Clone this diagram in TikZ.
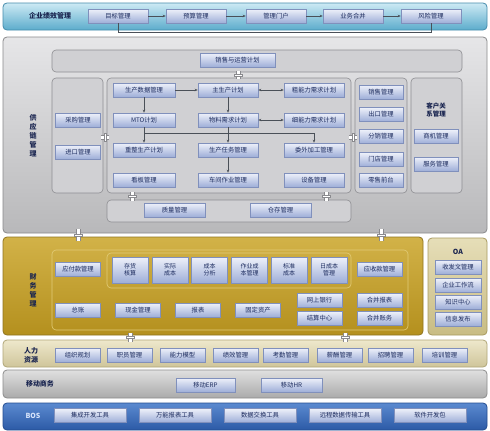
\documentclass[tikz,border=0pt]{standalone}
\usepackage{fontspec}
\setmainfont{Noto Sans CJK SC}
\usetikzlibrary{arrows.meta}
\definecolor{boxtop}{HTML}{EEF1FA}
\definecolor{boxbot}{HTML}{9EAED8}
\definecolor{boxline}{HTML}{8090BC}
\definecolor{boxtext}{HTML}{1C2B5E}
\definecolor{ttl}{HTML}{1A2550}
\definecolor{arrc}{HTML}{4A5058}
\definecolor{pipec}{HTML}{8A8A8E}
\definecolor{b1line}{RGB}{70,140,172}
\definecolor{b1top}{RGB}{205,234,244}
\definecolor{b1bot}{RGB}{92,172,204}
\definecolor{b2line}{RGB}{138,138,140}
\definecolor{b2top}{RGB}{230,230,232}
\definecolor{b2bot}{RGB}{184,184,186}
\definecolor{g2line}{RGB}{142,142,146}
\definecolor{g2fill}{RGB}{208,208,211}
\definecolor{b3line}{RGB}{143,116,32}
\definecolor{b3top}{RGB}{210,178,72}
\definecolor{b3bot}{RGB}{180,144,30}
\definecolor{g3line}{RGB}{226,204,120}
\definecolor{oaline}{RGB}{168,154,96}
\definecolor{oatop}{RGB}{230,222,184}
\definecolor{oabot}{RGB}{200,188,132}
\definecolor{hrline}{RGB}{176,166,120}
\definecolor{hrtop}{RGB}{238,232,204}
\definecolor{hrbot}{RGB}{207,197,154}
\definecolor{mbline}{RGB}{140,140,140}
\definecolor{mbtop}{RGB}{224,224,224}
\definecolor{mbbot}{RGB}{170,170,170}
\definecolor{bsline}{RGB}{35,76,144}
\definecolor{bstop}{RGB}{91,138,208}
\definecolor{bsbot}{RGB}{44,90,166}
\definecolor{bstext}{RGB}{215,228,250}
\newcommand\vpipe[3]{%
  \fill[white] ({#1-2},#2) rectangle ({#1+2},#3);
  \draw[pipec,line width=0.5pt] ({#1-2},#2) -- ({#1-2},#3) ({#1+2},#2) -- ({#1+2},#3);
  \draw[pipec,fill=white,line width=0.4pt] ({#1-4},{(#2+#3)/2-1}) rectangle ({#1+4},{(#2+#3)/2+1});}
\newcommand\hpipe[3]{%
  \fill[white] (#2,{#1-2}) rectangle (#3,{#1+2});
  \draw[pipec,line width=0.5pt] (#2,{#1-2}) -- (#3,{#1-2}) (#2,{#1+2}) -- (#3,{#1+2});
  \draw[pipec,fill=white,line width=0.4pt] ({(#2+#3)/2-1},{#1-4}) rectangle ({(#2+#3)/2+1},{#1+4});}
\begin{document}
\begin{tikzpicture}[x=1pt,y=-1pt,
  bx/.style={draw=boxline, line width=0.6pt, top color=boxtop, bottom color=boxbot,
    minimum height=14pt, inner sep=0pt, font=\fontsize{6.3}{7}\selectfont, text=boxtext},
  bxx/.style={bx, minimum height=26pt, minimum width=36pt, align=center, font=\fontsize{6}{7}\selectfont},
  grp/.style={draw=#1, rounded corners=4pt, line width=0.6pt},
  band/.style={rounded corners=4pt, line width=0.8pt},
  ttlf/.style={font=\fontsize{7}{9}\selectfont\bfseries, text=ttl, align=center, inner sep=0pt},
  arr/.style={-{Stealth[length=3pt,width=2.5pt]}, draw=arrc, line width=0.5pt},
  darr/.style={{Stealth[length=3pt,width=2.5pt]}-{Stealth[length=3pt,width=2.5pt]}, draw=arrc, line width=0.5pt}]
\useasboundingbox (0,0) rectangle (490,431);
\fill[white] (0,0) rectangle (490,431);

% ---------- band 1: enterprise performance ----------
\draw[band, draw=b1line, top color=b1top, bottom color=b1bot] (3,3) rectangle (487,30);
\node[ttlf] (tt) at (50,16) {企业绩效管理};
\node[bx, minimum width=60pt] (t1) at (118,16) {目标管理};
\node[bx, minimum width=60pt] (t2) at (196,16) {预算管理};
\node[bx, minimum width=60pt] (t3) at (276,16) {管理门户};
\node[bx, minimum width=60pt] (t4) at (353,16) {业务合并};
\node[bx, minimum width=60pt] (t5) at (431,16) {风险管理};
\draw[arr] (t1) -- (t2);
\draw[arr] (t2) -- (t3);
\draw[arr] (t3) -- (t4);
\draw[arr] (t4) -- (t5);
\draw[arrc, line width=0.5pt] (t1.south) -- ++(0,9) -| (t5.south);

% ---------- band 2: supply chain ----------
\draw[band, draw=b2line, top color=b2top, bottom color=b2bot] (3,37) rectangle (487,233);
\node[ttlf] (st) at (33,136) {供\\应\\链\\管\\理};
\foreach \a/\b/\c/\d in {52/50/462/72, 52/78/103/193, 107/78/351/193, 107/200/351/222, 355/78/407/193, 411/78/462/193}
  \draw[grp=g2line, fill=g2fill] (\a,\b) rectangle (\c,\d);
\node[bx, minimum width=75pt] (s0) at (237.5,60) {销售与运营计划};
\node[bx, minimum width=45pt] (p1) at (78,120) {采购管理};
\node[bx, minimum width=45pt] (p2) at (78,152) {进口管理};
\node[bx, minimum width=62pt] (c11) at (144,90) {生产数据管理};
\node[bx, minimum width=60pt] (c12) at (228,90) {主生产计划};
\node[bx, minimum width=60pt] (c13) at (314,90) {粗能力需求计划};
\node[bx, minimum width=62pt] (c21) at (144,120) {MTO计划};
\node[bx, minimum width=60pt] (c22) at (228,120) {物料需求计划};
\node[bx, minimum width=60pt] (c23) at (314,120) {细能力需求计划};
\node[bx, minimum width=62pt] (c31) at (144,150) {重整生产计划};
\node[bx, minimum width=60pt] (c32) at (228,150) {生产任务管理};
\node[bx, minimum width=60pt] (c33) at (314,150) {委外加工管理};
\node[bx, minimum width=62pt] (c41) at (144,180) {看板管理};
\node[bx, minimum width=60pt] (c42) at (228,180) {车间作业管理};
\node[bx, minimum width=60pt] (c43) at (314,180) {设备管理};
\node[bx, minimum width=61pt] (q1) at (174.5,210) {质量管理};
\node[bx, minimum width=61pt] (q2) at (280.5,210) {仓存管理};
\node[bx, minimum width=44pt] (x1) at (381,92) {销售管理};
\node[bx, minimum width=44pt] (x2) at (381,114.5) {出口管理};
\node[bx, minimum width=44pt] (x3) at (381,136.5) {分销管理};
\node[bx, minimum width=44pt] (x4) at (381,159.5) {门店管理};
\node[bx, minimum width=44pt] (x5) at (381,180) {零售前台};
\node[ttlf, font=\fontsize{6.5}{8}\selectfont\bfseries] (crt) at (436,110) {客户关\\系管理};
\node[bx, minimum width=44pt] (k1) at (436,136.5) {商机管理};
\node[bx, minimum width=44pt] (k2) at (436,164) {服务管理};
\draw[arr] (c11) -- (c12);
\draw[darr] (c12) -- (c13);
\draw[arr] (c11) -- (c21);
\draw[arr] (c12) -- (c22);
\draw[darr] (c22) -- (c23);
\draw[arr] (c21) -- (c31);
\draw[arr] (c22) -- (c32);
\coordinate (hj) at (144,133);
\draw[arr] (hj) -| (c33.north);
\draw[arr] (c32) -- (c42);
\vpipe{238}{71}{79}
\hpipe{137}{101}{109}
\hpipe{137}{349}{357}
\vpipe{132}{192}{201}
\vpipe{326}{192}{201}

% ---------- band 3: finance ----------
\draw[band, draw=b3line, top color=b3top, bottom color=b3bot] (3,237) rectangle (423,335);
\draw[grp=g3line] (52,250) rectangle (408,330);
\draw[grp=g3line] (107,253) rectangle (351,288);
\node[ttlf] (ft) at (33,290) {财\\务\\管\\理};
\node[bx, minimum width=45pt] (f1) at (78,269) {应付款管理};
\node[bxx] (g1) at (130,270) {存货\\核算};
\node[bxx] (g2) at (170,270) {实际\\成本};
\node[bxx] (g3) at (209.5,270) {成本\\分析};
\node[bxx] (g4) at (249.5,270) {作业成\\本管理};
\node[bxx] (g5) at (289,270) {标准\\成本};
\node[bxx] (g6) at (329,270) {日成本\\管理};
\node[bx, minimum width=45pt] (f2) at (379.5,269) {应收款管理};
\node[bx, minimum width=45pt] (h1) at (78,310) {总账};
\node[bx, minimum width=45pt] (h2) at (138,310) {现金管理};
\node[bx, minimum width=45pt] (h3) at (198,310) {报表};
\node[bx, minimum width=45pt] (h4) at (258,310) {固定资产};
\node[bx, minimum width=45pt] (h5) at (319.5,300.5) {网上银行};
\node[bx, minimum width=45pt] (h6) at (319.5,318.5) {结算中心};
\node[bx, minimum width=45pt] (h7) at (379.5,300.5) {合并报表};
\node[bx, minimum width=45pt] (h8) at (379.5,318.5) {合并账务};
\vpipe{78}{229}{241}
\vpipe{381}{229}{241}

% ---------- OA ----------
\draw[band, draw=oaline, top color=oatop, bottom color=oabot] (428,238) rectangle (487,335);
\node[ttlf] (oat) at (458,252) {OA};
\node[bx, minimum width=46pt] (o1) at (458,267) {收发文管理};
\node[bx, minimum width=46pt] (o2) at (458,285.5) {企业工作流};
\node[bx, minimum width=46pt] (o3) at (458,302) {知识中心};
\node[bx, minimum width=46pt] (o4) at (458,319) {信息发布};

% ---------- HR ----------
\draw[band, draw=hrline, top color=hrtop, bottom color=hrbot] (3,340) rectangle (487,367);
\node[ttlf] (hrt) at (31,355) {人力\\资源};
\node[bx, minimum width=45pt] (r1) at (77.5,355) {组织规划};
\node[bx, minimum width=45pt] (r2) at (129.5,355) {职员管理};
\node[bx, minimum width=45pt] (r3) at (182.5,355) {能力模型};
\node[bx, minimum width=45pt] (r4) at (235.5,355) {绩效管理};
\node[bx, minimum width=45pt] (r5) at (285.5,355) {考勤管理};
\node[bx, minimum width=45pt] (r6) at (339.5,355) {薪酬管理};
\node[bx, minimum width=45pt] (r7) at (390.5,355) {招聘管理};
\node[bx, minimum width=45pt] (r8) at (444.5,355) {培训管理};
\vpipe{130}{333}{342}
\vpipe{345}{333}{342}

% ---------- mobile ----------
\draw[band, draw=mbline, top color=mbtop, bottom color=mbbot] (3,370) rectangle (487,398);
\node[ttlf] (mt) at (40,384) {移动商务};
\node[bx, minimum width=59pt] (m1) at (205.5,385) {移动ERP};
\node[bx, minimum width=61pt] (m2) at (291.5,385) {移动HR};

% ---------- BOS ----------
\draw[band, draw=bsline, top color=bstop, bottom color=bsbot] (3,403) rectangle (487,430);
\node[ttlf, text=bstext] (bt) at (33,416) {BOS};
\node[bx, minimum width=72pt] (b1) at (90,415.5) {集成开发工具};
\node[bx, minimum width=72pt] (b2) at (175,415.5) {万能报表工具};
\node[bx, minimum width=72pt] (b3) at (260,415.5) {数据交换工具};
\node[bx, minimum width=72pt] (b4) at (345,415.5) {远程数据传输工具};
\node[bx, minimum width=72pt] (b5) at (430,415.5) {软件开发包};
\end{tikzpicture}
\end{document}
